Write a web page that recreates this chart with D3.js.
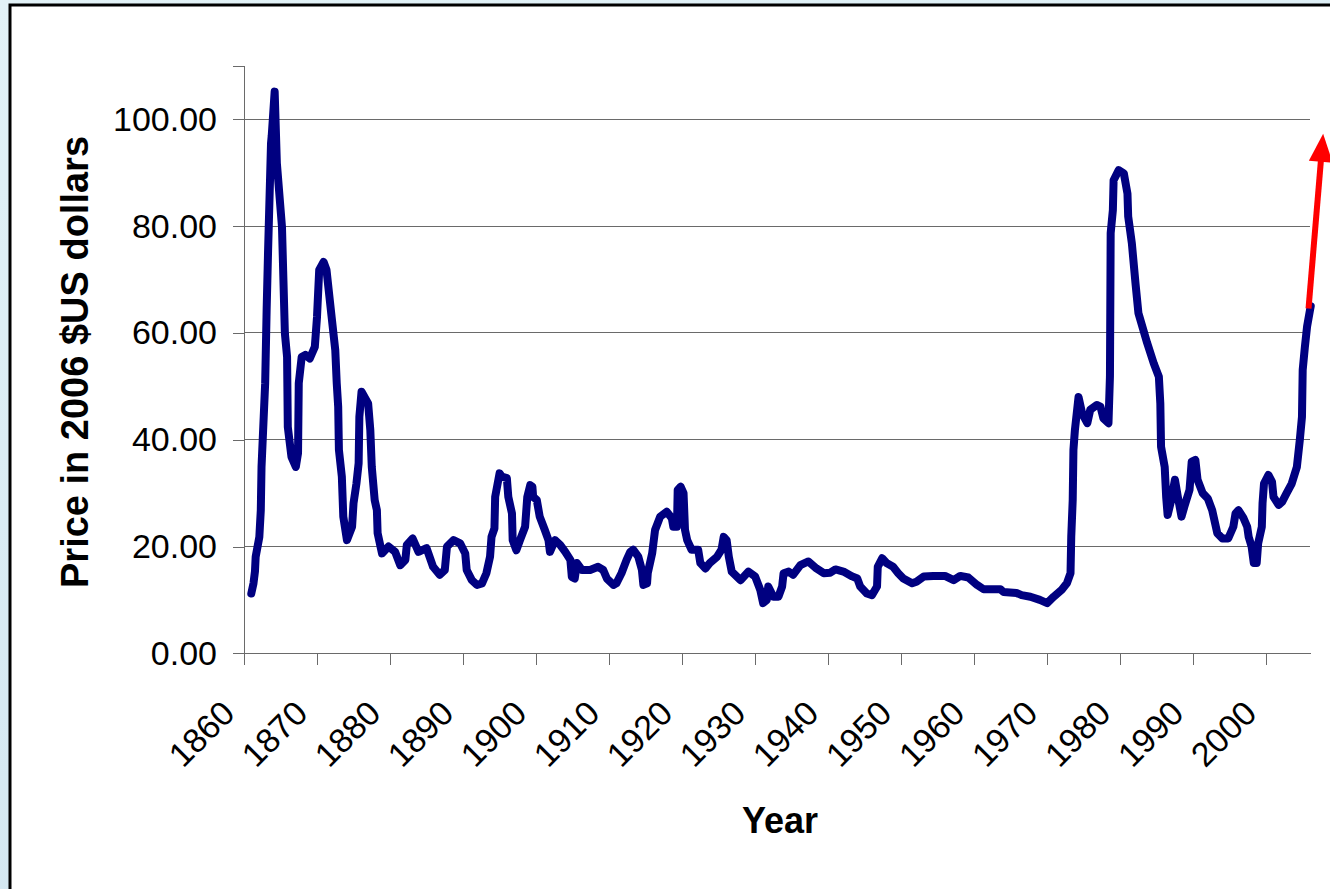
<!DOCTYPE html>
<html>
<head>
<meta charset="utf-8">
<script src="https://cdn.jsdelivr.net/npm/d3@7"></script>
<style>
  html, body { margin: 0; padding: 0; background: #dcecf3; }
  svg { display: block; }
  text { font-family: "Liberation Sans", Arial, sans-serif; }
</style>
</head>
<body>
<svg id="chart" width="1330" height="889"></svg>
<script>
// Crude oil price, 2006 US dollars per barrel
const years = [
  1861.0, 1861.3, 1861.5, 1861.6, 1862.1, 1862.3, 1862.4, 1862.9, 1863.1, 1863.3,
  1863.7, 1863.8, 1864.2, 1864.5, 1865.2, 1865.4, 1865.6, 1865.9, 1866.0, 1866.5,
  1867.1, 1867.4, 1867.5, 1867.9, 1868.4, 1869.0, 1869.7, 1870.0, 1870.3, 1870.9,
  1871.3, 1872.0, 1872.5, 1872.7, 1872.9, 1873.0, 1873.4, 1873.6, 1874.1, 1874.8,
  1875.0, 1875.4, 1875.7, 1875.8, 1876.1, 1877.0, 1877.3, 1877.5, 1877.9, 1878.2,
  1878.3, 1878.9, 1879.8, 1880.7, 1881.4, 1882.1, 1882.3, 1883.1, 1883.9, 1885.0,
  1885.9, 1886.8, 1887.5, 1887.8, 1888.7, 1889.6, 1890.3, 1890.5, 1891.2, 1891.9,
  1892.6, 1893.2, 1893.7, 1893.9, 1894.3, 1894.4, 1895.0, 1895.3, 1896.0, 1896.2,
  1896.7, 1896.8, 1897.3, 1897.8, 1898.5, 1898.8, 1899.2, 1899.5, 1899.6, 1900.1,
  1900.5, 1901.2, 1901.7, 1901.9, 1902.6, 1903.3, 1904.0, 1904.7, 1904.9, 1905.3,
  1905.6, 1906.3, 1907.4, 1908.5, 1909.2, 1909.7, 1910.6, 1911.0, 1911.7, 1912.4,
  1912.9, 1913.3, 1914.0, 1914.5, 1914.7, 1915.2, 1915.3, 1915.9, 1916.3, 1917.0,
  1917.9, 1918.6, 1918.8, 1919.3, 1919.4, 1919.8, 1920.2, 1920.4, 1920.7, 1921.3,
  1922.2, 1922.5, 1923.2, 1923.8, 1924.8, 1925.4, 1925.7, 1926.1, 1926.4, 1926.8,
  1928.0, 1929.1, 1930.0, 1930.7, 1931.1, 1931.6, 1931.8, 1932.5, 1933.2, 1933.7,
  1933.9, 1934.6, 1935.2, 1936.2, 1937.3, 1938.4, 1939.4, 1940.3, 1941.0, 1942.1,
  1943.3, 1944.0, 1944.4, 1945.3, 1946.0, 1946.7, 1946.8, 1947.4, 1948.0, 1948.9,
  1949.6, 1950.3, 1951.5, 1952.1, 1953.1, 1954.4, 1956.0, 1957.2, 1958.1, 1959.2,
  1960.4, 1961.3, 1963.6, 1964.0, 1965.8, 1966.5, 1967.7, 1969.0, 1970.0, 1970.9,
  1972.0, 1972.7, 1973.2, 1973.3, 1973.5, 1973.6, 1973.8, 1974.3, 1974.8, 1975.5,
  1975.9, 1976.8, 1977.3, 1977.7, 1978.4, 1978.6, 1978.7, 1979.0, 1979.1, 1979.8,
  1980.5, 1981.0, 1981.1, 1981.6, 1982.1, 1982.5, 1983.7, 1984.6, 1985.3, 1985.5,
  1985.6, 1986.1, 1986.3, 1986.5, 1987.0, 1987.5, 1987.9, 1988.4, 1988.8, 1989.5,
  1989.8, 1990.3, 1990.6, 1991.3, 1992.0, 1992.6, 1993.3, 1994.0, 1994.8, 1995.5,
  1995.8, 1996.2, 1996.9, 1997.4, 1997.6, 1998.0, 1998.3, 1998.7, 1998.9, 1999.4,
  1999.5, 1999.7, 2000.3, 2000.8, 2001.0, 2001.7, 2002.2, 2002.8, 2003.5, 2004.2,
  2004.6, 2004.9, 2005.0, 2005.3, 2005.6, 2006.0, 2006.1
];
const prices = [
  11.2, 13.1, 15.3, 18.1, 21.8, 26.8, 34.9, 50.6, 64.3, 75.5,
  95.5, 97.0, 105.2, 91.8, 79.9, 69.9, 59.9, 55.5, 42.4, 36.8,
  34.9, 37.5, 50.6, 55.5, 55.9, 55.2, 57.4, 63.0, 71.8, 73.3,
  71.8, 63.0, 56.8, 50.6, 46.2, 38.1, 33.1, 25.6, 21.2, 23.7,
  28.1, 31.8, 35.6, 44.3, 49.0, 46.8, 41.8, 34.9, 28.7, 26.8,
  22.5, 18.7, 20.0, 19.0, 16.5, 17.5, 20.3, 21.5, 19.0, 19.7,
  16.2, 14.7, 15.6, 20.0, 21.2, 20.6, 18.7, 15.6, 13.7, 12.8,
  13.1, 15.0, 18.1, 21.8, 23.4, 29.3, 33.7, 33.1, 32.8, 29.3,
  26.2, 21.2, 19.3, 21.2, 23.7, 29.3, 31.5, 31.2, 29.3, 28.7,
  25.6, 23.1, 21.2, 19.0, 21.2, 20.3, 19.0, 17.5, 14.3, 14.0,
  16.9, 15.6, 15.6, 16.2, 15.6, 14.0, 12.8, 13.1, 15.0, 17.5,
  19.0, 19.4, 18.1, 15.6, 12.8, 13.1, 15.0, 18.7, 23.1, 25.6,
  26.5, 25.3, 23.7, 23.7, 30.6, 31.2, 30.0, 23.1, 21.2, 19.4,
  19.4, 16.9, 15.9, 16.9, 18.1, 19.4, 21.8, 21.2, 18.1, 15.3,
  13.7, 15.3, 14.4, 11.9, 9.4, 10.0, 12.5, 10.6, 10.6, 12.5,
  15.0, 15.3, 14.7, 16.5, 17.2, 15.9, 15.0, 15.1, 15.7, 15.3,
  14.4, 14.0, 12.5, 11.2, 10.9, 12.5, 16.2, 17.8, 16.9, 16.2,
  15.0, 14.0, 13.1, 13.4, 14.4, 14.5, 14.5, 13.7, 14.5, 14.2,
  12.8, 12.0, 12.0, 11.5, 11.3, 10.9, 10.6, 10.0, 9.4, 10.6,
  11.9, 13.1, 15.0, 21.8, 28.7, 38.1, 41.8, 48.0, 44.9, 43.1,
  45.6, 46.5, 46.2, 44.0, 43.1, 51.8, 78.7, 83.0, 88.6, 90.5,
  89.9, 86.1, 81.8, 76.8, 69.3, 63.7, 58.1, 54.3, 51.8, 46.8,
  38.7, 34.9, 29.3, 25.9, 28.7, 32.5, 29.3, 25.6, 27.5, 30.6,
  35.9, 36.2, 32.5, 30.0, 29.0, 26.8, 22.5, 21.5, 21.5, 23.7,
  26.2, 26.8, 25.3, 23.7, 21.8, 20.0, 16.9, 16.9, 20.6, 23.7,
  28.1, 31.8, 33.4, 32.1, 29.3, 27.8, 28.4, 30.0, 31.8, 34.9,
  39.9, 44.3, 53.1, 57.4, 61.2, 64.3, 65.0
];
const yTicks = [0, 20, 40, 60, 80, 100];
const xTicks = [1860, 1870, 1880, 1890, 1900, 1910, 1920, 1930, 1940, 1950, 1960, 1970, 1980, 1990, 2000];
// Trend arrow continuing the latest rise: [start, tip] in (year, price)
const arrowYears = [2005.8, 2007.8];
const arrowPrices = [64.6, 97.3];

const svg = d3.select("#chart");
const W = 1330, H = 889;

// Backdrop and framed white panel
const defs = svg.append("defs");
const bg = defs.append("linearGradient").attr("id", "bg")
  .attr("x1", 0).attr("y1", 0).attr("x2", 0.3).attr("y2", 1);
bg.append("stop").attr("offset", 0).attr("stop-color", "#e2f2f7");
bg.append("stop").attr("offset", 1).attr("stop-color", "#d3e7f1");
svg.append("rect").attr("width", W).attr("height", H).attr("fill", "url(#bg)");
svg.append("rect").attr("x", 10).attr("y", 5).attr("width", W + 20).attr("height", H + 20)
  .attr("fill", "#ffffff").attr("stroke", "#000000").attr("stroke-width", 3);

const x = d3.scaleLinear().domain([1860, 2006]).range([244, 1310]);
const y = d3.scaleLinear().domain([0, 110]).range([653.3, 66]);
const axisColor = "#6a6a6a";

// Horizontal gridlines
svg.append("g").selectAll("line").data(yTicks.filter(d => d > 0)).join("line")
  .attr("x1", x(1860)).attr("x2", x(2006))
  .attr("y1", d => y(d)).attr("y2", d => y(d))
  .attr("stroke", axisColor).attr("stroke-width", 1).attr("shape-rendering", "crispEdges");

// Y axis
const yAxis = svg.append("g").attr("transform", `translate(${x(1860)},0)`)
  .call(d3.axisLeft(y).tickValues(yTicks).tickFormat(d3.format(".2f")).tickSize(11).tickPadding(16));
yAxis.select(".domain").attr("stroke", axisColor).attr("shape-rendering", "crispEdges");
yAxis.selectAll(".tick line").attr("stroke", axisColor).attr("shape-rendering", "crispEdges");
yAxis.selectAll(".tick text").attr("font-size", 34).attr("fill", "#000")
  .attr("font-family", "Liberation Sans, Arial, sans-serif");

// X axis
const xAxis = svg.append("g").attr("transform", `translate(0,${y(0)})`)
  .call(d3.axisBottom(x).tickValues(xTicks).tickFormat(d3.format("d")).tickSize(12).tickSizeOuter(0));
xAxis.select(".domain").attr("stroke", axisColor).attr("shape-rendering", "crispEdges");
xAxis.selectAll(".tick line").attr("stroke", axisColor).attr("shape-rendering", "crispEdges");
xAxis.selectAll(".tick text")
  .attr("font-size", 34).attr("fill", "#000")
  .attr("font-family", "Liberation Sans, Arial, sans-serif")
  .attr("text-anchor", "end").attr("dy", null).attr("y", 0)
  .attr("transform", "translate(-8,62) rotate(-45)");

// Price series
const line = d3.line().x((d, i) => x(years[i])).y(d => y(d));
svg.append("path").datum(prices)
  .attr("d", line)
  .attr("fill", "none").attr("stroke", "#000080").attr("stroke-width", 8)
  .attr("stroke-linejoin", "round").attr("stroke-linecap", "round");

// Red trend arrow: shaft plus a solid triangular head
const ax0 = x(arrowYears[0]), ay0 = y(arrowPrices[0]);
const ax1 = x(arrowYears[1]), ay1 = y(arrowPrices[1]);
const len = Math.hypot(ax1 - ax0, ay1 - ay0);
const ux = (ax1 - ax0) / len, uy = (ay1 - ay0) / len;
const headLen = 28, headHalf = 12;
const bx = ax1 - ux * headLen, by = ay1 - uy * headLen;
svg.append("line")
  .attr("x1", ax0).attr("y1", ay0).attr("x2", bx + ux * 2).attr("y2", by + uy * 2)
  .attr("stroke", "#ff0000").attr("stroke-width", 6);
svg.append("path")
  .attr("d", `M${ax1},${ay1} L${bx - uy * headHalf},${by + ux * headHalf} L${bx + uy * headHalf},${by - ux * headHalf} Z`)
  .attr("fill", "#ff0000");

// Axis titles
svg.append("text").attr("x", 780).attr("y", 833).attr("text-anchor", "middle")
  .attr("font-size", 36).attr("font-weight", "bold").text("Year");
svg.append("text").attr("transform", "translate(88,362) rotate(-90)").attr("text-anchor", "middle")
  .attr("font-size", 38).attr("font-weight", "bold").text("Price in 2006 $US dollars");
</script>
</body>
</html>
